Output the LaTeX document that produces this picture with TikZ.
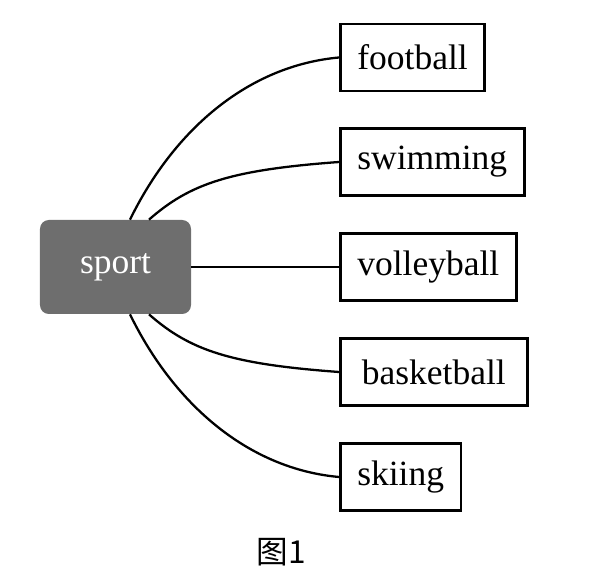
\documentclass[tikz,border=0pt]{standalone}
\usepackage{fontspec}
\setmainfont{Liberation Serif}
\newfontfamily\cjk{Noto Sans CJK SC}
\definecolor{hubgray}{HTML}{6E6E6E}

\begin{document}
\begin{tikzpicture}[hub/.style={fill=hubgray,rounded corners=5pt,minimum width=3.02cm,minimum height=1.88cm,text=white,font=\fontsize{20.2}{24}\selectfont},leaf/.style={draw=black,line width=1.5pt,anchor=west,minimum height=1.34cm,inner xsep=0.34cm,font=\fontsize{20.2}{24}\selectfont},link/.style={line width=1.3pt,draw=black}]
\useasboundingbox (0,0) rectangle (12,-11.56);
\node[hub] (sport) at (2.31,-5.34) {sport};
\node[leaf] (football) at (6.78,-1.15) {football};
\node[leaf] (swimming) at (6.78,-3.24) {swimming};
\node[leaf] (volleyball) at (6.78,-5.34) {volleyball};
\node[leaf,minimum width=3.74cm] (basketball) at (6.78,-7.44) {basketball};
\node[leaf] (skiing) at (6.78,-9.54) {skiing};
\node[font=\cjk\fontsize{18}{22}\selectfont] (caption) at (5.62,-11.04) {图1};
\draw[link] ([xshift=0.29cm]sport.north) .. controls +(0.9,1.84) and +(-1.78,-0.16) .. (football.west);
\draw[link] ([xshift=0.67cm]sport.north) .. controls +(0.82,0.72) and +(-2.18,-0.16) .. (swimming.west);
\draw[link] (sport.east) -- (volleyball.west);
\draw[link] ([xshift=0.67cm]sport.south) .. controls +(0.82,-0.72) and +(-2.18,0.16) .. (basketball.west);
\draw[link] ([xshift=0.29cm]sport.south) .. controls +(0.9,-1.84) and +(-1.78,0.16) .. (skiing.west);
\end{tikzpicture}
\end{document}
